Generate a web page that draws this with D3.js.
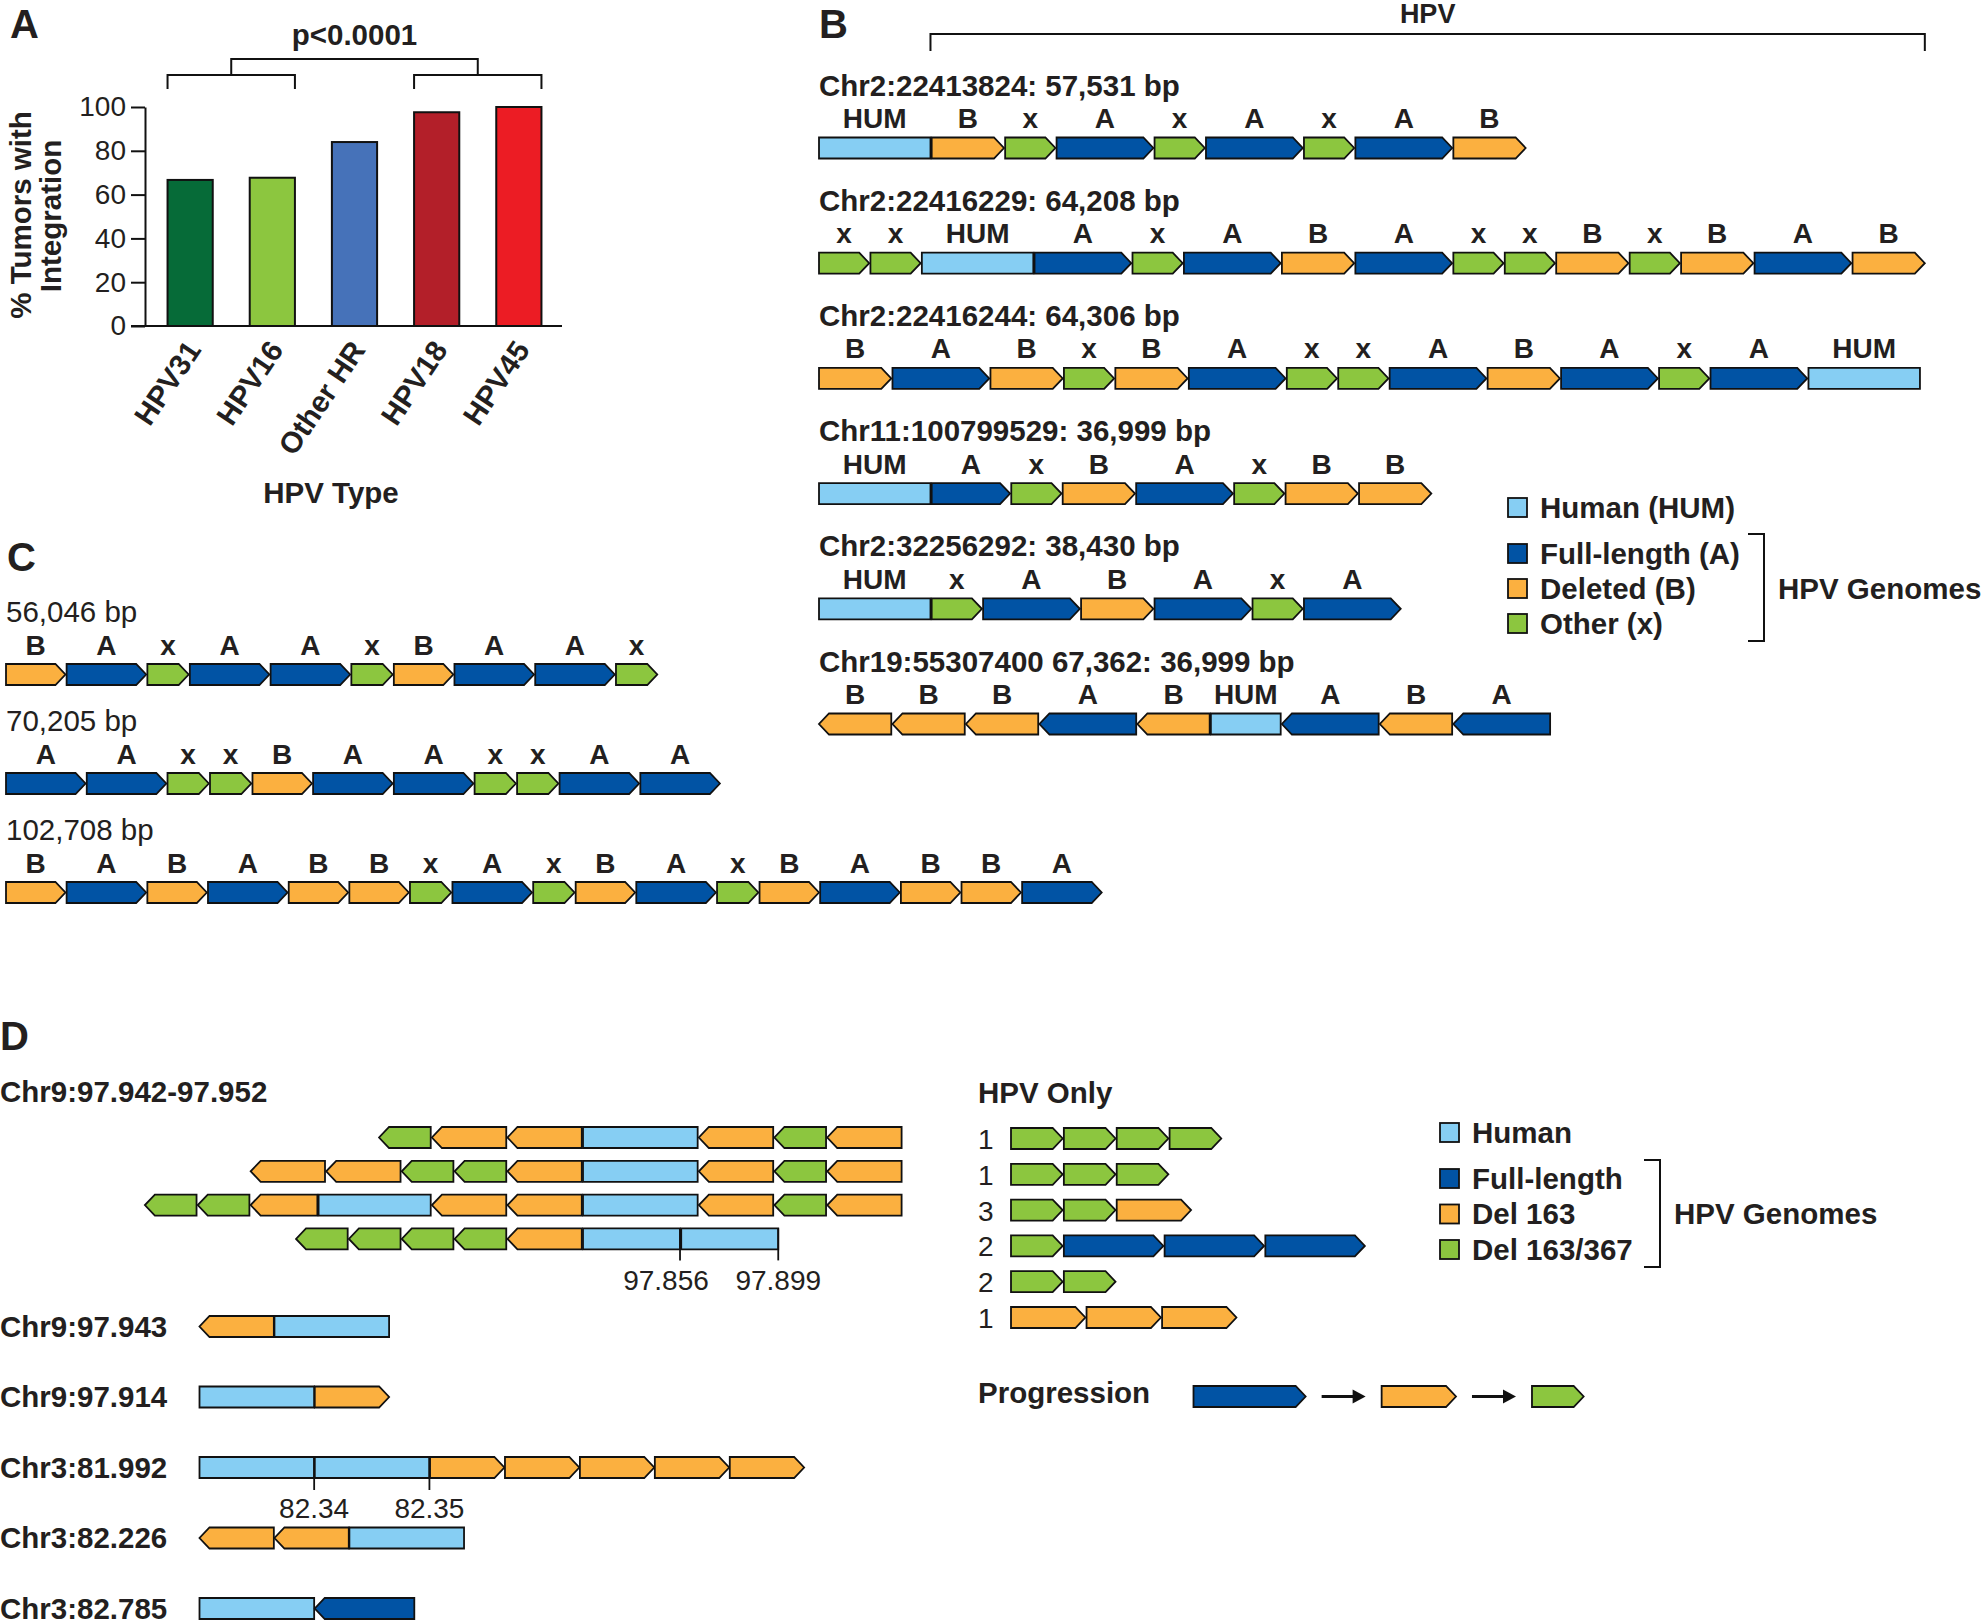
<!DOCTYPE html>
<html>
<head>
<meta charset="utf-8">
<script src="https://cdn.jsdelivr.net/npm/d3@7"></script>
<style>
  body { margin: 0; background: #ffffff; }
  svg text { font-family: "Liberation Sans", Arial, Helvetica, sans-serif; fill: #231f20; }
</style>
</head>
<body>
<svg id="fig" width="1983" height="1624"></svg>
<script>
// ===================== DATA =====================
// Panel A
const hpvTypes = ["HPV31", "HPV16", "Other HR", "HPV18", "HPV45"];
const pctIntegration = [66.7, 67.7, 84, 97.6, 100];
const yTickValues = [0, 20, 40, 60, 80, 100];
const pValueLabel = "p<0.0001";

// Approximate segment lengths (kb) per segment type; "TYPE:kb" overrides
const segKb = { A: 7.9, B: 5.9, x: 4.1, HUM: 9.1 };

// Panel B
const panelBLabels = [
  "Chr2:22413824: 57,531 bp",
  "Chr2:22416229: 64,208 bp",
  "Chr2:22416244: 64,306 bp",
  "Chr11:100799529: 36,999 bp",
  "Chr2:32256292: 38,430 bp",
  "Chr19:55307400 67,362: 36,999 bp"
];
const panelBRows = [
  "HUM B x A x A x A B",
  "x x HUM A x A B A x x B x B A B",
  "B A B x B A x x A B A x A HUM",
  "HUM A:6.4 x B A x B B",
  "HUM x A B A x A",
  "B B B A B HUM:5.7 A B A"
];
const panelBDir = [1, 1, 1, 1, 1, -1];
const legendB = [["HUM", "Human (HUM)"], ["A", "Full-length (A)"], ["B", "Deleted (B)"], ["x", "Other (x)"]];

// Panel C
const panelCLabels = ["56,046 bp", "70,205 bp", "102,708 bp"];
const panelCRows = [
  "B A x A A x B A A x",
  "A A x x B A A x x A A",
  "B A B A B B x A x B A x B A B B A"
];

// Panel D
const dTitle = "Chr9:97.942-97.952";
const dTopRows = [
  "x B B HUM B x B",
  "B B x x B HUM B x B",
  "x x B:5.3 HUM:8.9 B B HUM B x B",
  "x x x x B HUM:7.7 HUM:7.7"
];
const dTopAnchor = [3, 5, 6, 5];           // segment sharing the same human locus
const dTopTicks = [{ row: 3, seg: 5, label: "97.856" }, { row: 3, seg: 6, label: "97.899" }];

const dLowLabels = ["Chr9:97.943", "Chr9:97.914", "Chr3:81.992", "Chr3:82.226", "Chr3:82.785"];
const dLowRows = ["B HUM", "HUM B", "HUM HUM B B B B B", "B B HUM", "HUM A"];
const dLowDir = [-1, 1, 1, -1, -1];
const dLowTicks = [{ row: 2, seg: 0, label: "82.34" }, { row: 2, seg: 1, label: "82.35" }];

const hpvOnlyCounts = ["1", "1", "3", "2", "2", "1"];
const hpvOnlyRows = ["x x x x", "x x x", "x x B", "x A A A", "x x", "B B B"];
const progression = ["A:8.9", "B", "x"];
const legendD = [["HUM", "Human"], ["A", "Full-length"], ["B", "Del 163"], ["x", "Del 163/367"]];

// ===================== STYLE =====================
const barColors = ["#066b38", "#8cc63f", "#4672b9", "#b31f29", "#ec1c24"];
const segColor = { HUM: "#86cef3", A: "#0153a4", B: "#fbb040", x: "#8cc63f" };
const INK = "#231f20";
const BOLD = 29.5;
const SEG_H = 21, TIP = 10, GAP = 1.2;

const svg = d3.select("#fig");

function txt(g, x, y, s, size, weight, anchor) {
  return g.append("text").attr("x", x).attr("y", y).text(s)
    .attr("font-size", size).attr("font-weight", weight || "bold")
    .attr("text-anchor", anchor || "start");
}

// panel letters
[["A", 10, 38], ["B", 819, 38], ["C", 7, 571], ["D", 0, 1050]].forEach(([s, x, y]) =>
  txt(svg, x, y, s, 40, "bold"));

// ===================== PANEL A =====================
const gA = svg.append("g");
const xA = d3.scaleBand().domain(hpvTypes).range([147, 562]).paddingInner(0.45).paddingOuter(0.25);
const yA = d3.scaleLinear().domain([0, 100]).range([326, 107]);
const bw = xA.bandwidth();

gA.selectAll("rect.bar").data(hpvTypes).join("rect").attr("class", "bar")
  .attr("x", d => xA(d))
  .attr("y", (d, i) => yA(pctIntegration[i]))
  .attr("width", bw)
  .attr("height", (d, i) => yA(0) - yA(pctIntegration[i]))
  .attr("fill", (d, i) => barColors[i])
  .attr("stroke", "#111").attr("stroke-width", 2);

const axisX0 = 145;
const yAxis = d3.axisLeft(yA).tickValues(yTickValues).tickSize(14).tickSizeOuter(0).tickPadding(5);
const gy = gA.append("g").attr("transform", `translate(${axisX0},0)`).call(yAxis);
gy.attr("font-family", null).attr("font-size", null);
gy.selectAll("text").attr("font-size", 28).attr("fill", INK);
gy.selectAll("line,path").attr("stroke", "#111").attr("stroke-width", 2);

gA.append("line").attr("x1", axisX0 - 14).attr("x2", xA.range()[1])
  .attr("y1", yA(0)).attr("y2", yA(0)).attr("stroke", "#111").attr("stroke-width", 2);

// x category labels (rotated)
hpvTypes.forEach(d => {
  const cx = xA(d) + bw / 2;
  gA.append("text").text(d)
    .attr("transform", `translate(${cx + 12},${yA(0) + 24}) rotate(-56)`)
    .attr("text-anchor", "end").attr("font-size", BOLD).attr("font-weight", "bold");
});
txt(gA, 331, 503, "HPV Type", BOLD, "bold", "middle");

// y label
gA.append("text").text("% Tumors with").attr("transform", "translate(31,215) rotate(-90)")
  .attr("text-anchor", "middle").attr("font-size", BOLD).attr("font-weight", "bold");
gA.append("text").text("Integration").attr("transform", "translate(61,216) rotate(-90)")
  .attr("text-anchor", "middle").attr("font-size", BOLD).attr("font-weight", "bold");

// significance brackets
{
  const L0 = xA(hpvTypes[0]), L1 = xA(hpvTypes[1]) + bw;
  const R0 = xA(hpvTypes[3]), R1 = xA(hpvTypes[4]) + bw;
  const lm = (L0 + L1) / 2, rm = (R0 + R1) / 2;
  const p = d3.path();
  p.moveTo(L0, 89); p.lineTo(L0, 75); p.lineTo(L1, 75); p.lineTo(L1, 89);
  p.moveTo(R0, 89); p.lineTo(R0, 75); p.lineTo(R1, 75); p.lineTo(R1, 89);
  p.moveTo(lm, 75); p.lineTo(lm, 59); p.lineTo(rm, 59); p.lineTo(rm, 75);
  gA.append("path").attr("d", p.toString()).attr("fill", "none").attr("stroke", "#111").attr("stroke-width", 2);
  txt(gA, (lm + rm) / 2, 45, pValueLabel, BOLD, "bold", "middle");
}

// ===================== SEGMENT HELPERS =====================
function parseRow(str) {
  return str.split(" ").map(t => {
    const [type, len] = t.split(":");
    return { type, kb: len ? +len : segKb[type] };
  });
}
function layoutRow(segs, scale, gap) {
  let cum = 0;
  return segs.map((s, i) => {
    const x0 = scale(cum) + i * gap;
    cum += s.kb;
    const x1 = scale(cum) + i * gap;
    return Object.assign({}, s, { x0, x1 });
  });
}
function segPath(d, y, dir) {
  const p = d3.path();
  const b = y + SEG_H, m = y + SEG_H / 2;
  if (d.type === "HUM") {
    p.rect(d.x0, y, d.x1 - d.x0, SEG_H);
  } else if (dir > 0) {
    p.moveTo(d.x0, y); p.lineTo(d.x1 - TIP, y); p.lineTo(d.x1, m);
    p.lineTo(d.x1 - TIP, b); p.lineTo(d.x0, b); p.closePath();
  } else {
    p.moveTo(d.x0 + TIP, y); p.lineTo(d.x1, y); p.lineTo(d.x1, b);
    p.lineTo(d.x0 + TIP, b); p.lineTo(d.x0, m); p.closePath();
  }
  return p.toString();
}
function drawSegs(g, segs, y, dir, letters) {
  g.selectAll(null).data(segs).join("path")
    .attr("d", d => segPath(d, y, dir))
    .attr("fill", d => segColor[d.type])
    .attr("stroke", "#111").attr("stroke-width", 1.8).attr("stroke-linejoin", "miter");
  if (letters) {
    g.selectAll(null).data(segs).join("text")
      .attr("x", d => (d.x0 + d.x1) / 2).attr("y", y - 9.5)
      .attr("text-anchor", "middle").attr("font-size", 28).attr("font-weight", "bold")
      .text(d => d.type);
  }
}

// ===================== PANEL B =====================
const gB = svg.append("g");
const originB = 819;
const kbB = d3.scaleLinear().domain([0, 1]).range([originB, originB + 12.25]);
const rowTopB = i => 137.5 + i * 115.2;
let maxEndB = 0;
panelBRows.forEach((r, i) => {
  const segs = layoutRow(parseRow(r), kbB, GAP);
  maxEndB = Math.max(maxEndB, segs[segs.length - 1].x1);
  const y = rowTopB(i);
  txt(gB, originB, y - 42, panelBLabels[i], BOLD, "bold");
  drawSegs(gB.append("g"), segs, y, panelBDir[i], true);
});
// HPV bracket
{
  const left = kbB(segKb.HUM);
  const p = d3.path();
  p.moveTo(left, 51); p.lineTo(left, 34); p.lineTo(maxEndB, 34); p.lineTo(maxEndB, 51);
  gB.append("path").attr("d", p.toString()).attr("fill", "none").attr("stroke", "#111").attr("stroke-width", 2);
  txt(gB, (left + maxEndB) / 2, 23, "HPV", 27, "bold", "middle");
}
function drawLegend(g, items, x, y0, firstGap, step, labelX, bracketX, bracketTop, bracketBot, genomesX, genomesY) {
  items.forEach(([t, label], i) => {
    const y = i === 0 ? y0 : y0 + firstGap + (i - 1) * step;
    g.append("rect").attr("x", x).attr("y", y).attr("width", 19).attr("height", 19)
      .attr("fill", segColor[t]).attr("stroke", "#111").attr("stroke-width", 1.8);
    txt(g, labelX, y + 19.5, label, BOLD, "bold");
  });
  const p = d3.path();
  p.moveTo(bracketX - 16, bracketTop); p.lineTo(bracketX, bracketTop);
  p.lineTo(bracketX, bracketBot); p.lineTo(bracketX - 16, bracketBot);
  g.append("path").attr("d", p.toString()).attr("fill", "none").attr("stroke", "#111").attr("stroke-width", 2);
  txt(g, genomesX, genomesY, "HPV Genomes", BOLD, "bold");
}
drawLegend(gB, legendB, 1508, 498, 46, 35, 1540, 1764, 534, 641, 1778, 599);

// ===================== PANEL C =====================
const gC = svg.append("g");
const originC = 6;
const kbC = d3.scaleLinear().domain([0, 1]).range([originC, originC + 10.07]);
panelCRows.forEach((r, i) => {
  const segs = layoutRow(parseRow(r), kbC, GAP);
  const y = 664 + i * 109;
  txt(gC, originC, y - 42, panelCLabels[i], BOLD, "normal");
  drawSegs(gC.append("g"), segs, y, 1, true);
});

// ===================== PANEL D =====================
const gD = svg.append("g");
txt(gD, 0, 1102, dTitle, BOLD, "bold");
const pxPerKbD = 12.6;
const kbD0 = d3.scaleLinear().domain([0, 1]).range([0, pxPerKbD]);
const anchorX = 583;
const dTopLayouts = dTopRows.map((r, i) => {
  const raw = layoutRow(parseRow(r), kbD0, GAP);
  const shift = anchorX - raw[dTopAnchor[i]].x0;
  return raw.map(s => Object.assign(s, { x0: s.x0 + shift, x1: s.x1 + shift }));
});
const rowTopDTop = i => 1127 + i * 33.8;
dTopLayouts.forEach((segs, i) => drawSegs(gD.append("g"), segs, rowTopDTop(i), -1, false));
dTopTicks.forEach((t, k) => {
  const xv = dTopLayouts[t.row][t.seg].x1;
  const y = rowTopDTop(t.row);
  gD.append("line").attr("x1", xv).attr("x2", xv).attr("y1", y).attr("y2", y + SEG_H + 11)
    .attr("stroke", "#111").attr("stroke-width", 1.8);
  txt(gD, xv, 1290, t.label, 28, "normal", "middle").attr("dx", k === 0 ? -14 : 0);
});

const originDLow = 199.5;
const kbDLow = d3.scaleLinear().domain([0, 1]).range([originDLow, originDLow + pxPerKbD]);
const rowTopDLow = i => 1316 + i * 70.5;
const dLowLayouts = dLowRows.map(r => layoutRow(parseRow(r), kbDLow, 0.6));
dLowLayouts.forEach((segs, i) => {
  const y = rowTopDLow(i);
  txt(gD, 0, y + 20.5, dLowLabels[i], BOLD, "bold");
  drawSegs(gD.append("g"), segs, y, dLowDir[i], false);
});
dLowTicks.forEach(t => {
  const xv = dLowLayouts[t.row][t.seg].x1;
  const y = rowTopDLow(t.row);
  gD.append("line").attr("x1", xv).attr("x2", xv).attr("y1", y).attr("y2", y + SEG_H + 12)
    .attr("stroke", "#111").attr("stroke-width", 1.8);
  txt(gD, xv, 1518, t.label, 28, "normal", "middle");
});

// HPV only
const gH = svg.append("g");
txt(gH, 978, 1103, "HPV Only", BOLD, "bold");
const originH = 1011;
const kbH = d3.scaleLinear().domain([0, 1]).range([originH, originH + pxPerKbD]);
hpvOnlyRows.forEach((r, i) => {
  const y = 1128 + i * 35.8;
  txt(gH, 978, y + 21, hpvOnlyCounts[i], 28, "normal");
  drawSegs(gH.append("g"), layoutRow(parseRow(r), kbH, GAP), y, 1, false);
});
drawLegend(gH, legendD, 1440, 1123, 46, 35.5, 1472, 1660, 1160, 1267, 1674, 1224);

// Progression
{
  const y = 1386;
  txt(gH, 978, 1403, "Progression", BOLD, "bold");
  const startX = 1193.5, spacing = 76;
  let cursor = startX;
  const segs = parseRow(progression.join(" ")).map(s => {
    const x0 = cursor, x1 = cursor + kbD0(s.kb);
    cursor = x1 + spacing;
    return Object.assign(s, { x0, x1 });
  });
  drawSegs(gH.append("g"), segs, y, 1, false);
  const m = y + SEG_H / 2;
  for (let i = 0; i < segs.length - 1; i++) {
    const a0 = segs[i].x1 + 16, a1 = segs[i + 1].x0 - 16;
    gH.append("line").attr("x1", a0).attr("x2", a1 - 10).attr("y1", m).attr("y2", m)
      .attr("stroke", "#111").attr("stroke-width", 3);
    const p = d3.path();
    p.moveTo(a1 - 13, m - 7); p.lineTo(a1, m); p.lineTo(a1 - 13, m + 7); p.closePath();
    gH.append("path").attr("d", p.toString()).attr("fill", "#111");
  }
}
</script>
</body>
</html>
